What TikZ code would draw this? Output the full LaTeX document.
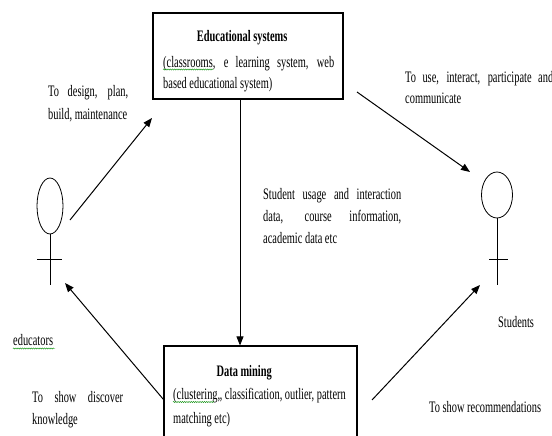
\documentclass[tikz,border=0pt]{standalone}
\usepackage{fontspec}
\setmainfont[FakeStretch=0.65]{Liberation Serif}
\usetikzlibrary{arrows.meta,decorations.pathmorphing,calc,shapes.geometric}
\newcommand\natsp{\spaceskip=0pt\xspaceskip=0pt\relax}
\begin{document}
\begin{tikzpicture}[x=1pt,y=-1pt,
  box/.style={draw, line width=1.2pt, inner sep=0pt, rectangle},
  txt/.style={inner sep=0pt, align=left, font=\fontsize{16}{22}\selectfont},
  con/.style={line width=1pt, -{Triangle[length=9pt,width=7pt]}},
  figline/.style={line width=0.8pt},
  squig/.style={green!55!black, line width=0.4pt, decorate, decoration={snake, amplitude=0.6pt, segment length=2.2pt}}]
\useasboundingbox (0,0) rectangle (552,436);
\clip (0,0) rectangle (552,436);
\fill[white] (0,0) rectangle (552,436);

% boxes
\node[box, minimum width=190pt, minimum height=86pt] (edu) at (248,56) {};
\node[box, minimum width=193pt, minimum height=110pt] (dm) at (260.5,401) {};

% box texts
\node[txt, text width=200pt, anchor=base west] (edutxt) at (163,42)
  {\natsp\makebox[171pt][c]{\bfseries Educational systems\hspace{13pt}}\\[3pt]
   \makebox[171pt][s]{(classrooms, e learning system, web}\\
   based educational system)};
\node[txt, text width=200pt, anchor=base west, font=\fontsize{16}{23.5}\selectfont] (dmtxt) at (173,376)
  {\natsp\makebox[176pt][c]{\bfseries Data mining\hspace{34pt}}\\
   (clustering,, classification, outlier, pattern\\
   matching etc)};

% spell-check squiggles
\coordinate (sq1a) at (163,69.5); \coordinate (sq1b) at (213,69.5);
\coordinate (sq2a) at (173,402); \coordinate (sq2b) at (214,402);
\coordinate (sq3a) at (13,348.5); \coordinate (sq3b) at (55,348.5);
\draw[squig] (sq1a) -- (sq1b);
\draw[squig] (sq2a) -- (sq2b);
\draw[squig] (sq3a) -- (sq3b);

% educator figure
\node[draw, ellipse, figline, inner sep=0pt, minimum width=26pt, minimum height=56pt] (ehead) at (50,206) {};
\coordinate (efoot) at (50,285);
\coordinate (ebarL) at (37,259); \coordinate (ebarR) at (62,259);
\draw[figline] (ehead.south) -- (efoot);
\draw[figline] (ebarL) -- (ebarR);

% student figure
\node[draw, ellipse, figline, inner sep=0pt, minimum width=31pt, minimum height=46pt] (shead) at (497,195) {};
\coordinate (sfoot) at (497,285);
\coordinate (sbarL) at (489,259); \coordinate (sbarR) at (508,259);
\draw[figline] (shead.south) -- (sfoot);
\draw[figline] (sbarL) -- (sbarR);

% connectors
\coordinate (vx) at (240,0);
\draw[con, line width=0.8pt] (edu.south -| vx) -- (dm.north -| vx);
\coordinate (a1s) at (70,220); \coordinate (a1e) at (152,118);
\draw[con] (a1s) -- (a1e);
\coordinate (a2s) at (357,92); \coordinate (a2e) at (470,172);
\draw[con] (a2s) -- (a2e);
\coordinate (a3s) at ($(dm.north west)+(0,54)$); \coordinate (a3e) at (65,283);
\draw[con] (a3s) -- (a3e);
\coordinate (a4s) at (372,400); \coordinate (a4e) at (480,285);
\draw[con] (a4s) -- (a4e);

% labels
\node[txt, text width=200pt, anchor=base west] (mid) at (263,199)
  {\natsp\makebox[138pt][s]{Student usage and interaction}\\
   \makebox[138pt][s]{data, course information,}\\
   academic data etc};
\node[txt, text width=150pt, anchor=base west] (ldesign) at (48,97)
  {\natsp\makebox[80pt][s]{To design, plan,}\\ build, maintenance};
\node[txt, text width=200pt, anchor=base west, font=\fontsize{16}{21}\selectfont] (luse) at (405,82)
  {\natsp\makebox[148pt][s]{To use, interact, participate and}\\ communicate};
\node[txt, anchor=base west] (leduc) at (13,345) {educators};
\node[txt, anchor=base west] (lstud) at (498,327) {Students};
\node[txt, text width=150pt, anchor=base west] (lshow) at (32,402)
  {\natsp\makebox[91pt][s]{To show discover}\\ knowledge};
\node[txt, anchor=base west] (lrec) at (429,412) {\natsp To show recommendations};
\end{tikzpicture}
\end{document}
